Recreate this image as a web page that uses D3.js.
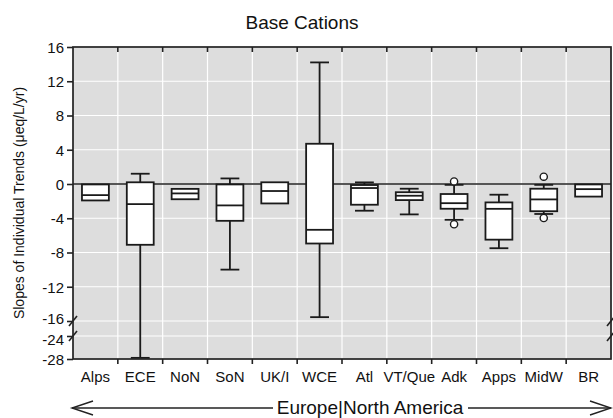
<!DOCTYPE html>
<html>
<head>
<meta charset="utf-8">
<script src="https://cdn.jsdelivr.net/npm/d3@7"></script>
<style>
  body { margin: 0; background: #fff; }
  text { font-family: "Liberation Sans", Arial, sans-serif; fill: #111; }
</style>
</head>
<body>
<svg id="chart"></svg>
<script>
// Data
let categories = ["Alps", "ECE", "NoN", "SoN", "UK/I", "WCE", "Atl", "VT/Que", "Adk", "Apps", "MidW", "BR"];
let whiskerLow  = [null, -27.8, null, -10.0, null, -15.55, -3.12, -3.55, -4.18, -7.5, -3.5, null];
let q1          = [-1.92, -7.1, -1.78, -4.3, -2.27, -6.95, -2.42, -1.88, -2.89, -6.5, -3.18, -1.47];
let median      = [-1.3, -2.35, -1.1, -2.5, -0.82, -5.35, -0.47, -1.37, -2.24, -2.9, -1.8, -0.6];
let q3          = [-0.05, 0.2, -0.57, -0.05, 0.2, 4.7, -0.12, -0.96, -1.17, -2.15, -0.55, -0.05];
let whiskerHigh = [null, 1.2, null, 0.65, null, 14.2, 0.19, -0.55, -0.1, -1.25, -0.1, null];
let outlierCats = ["Adk", "Adk", "MidW", "MidW"];
let outlierVals = [0.3, -4.7, 0.85, -3.97];
let yTicks = [16, 12, 8, 4, 0, -4, -8, -12, -16, -24, -28];

let W = 613, H = 418;
let pLeft = 73, pRight = 611, pTop = 47, pBottom = 359;

let svg = d3.select("#chart").attr("width", W).attr("height", H);

let x = d3.scaleBand().domain(categories).range([pLeft, pRight]);
// broken axis: -28..-24 below the break, -16..16 above
let y = d3.scaleLinear().domain([-28, -24, -16, 16]).range([pBottom, 336, 321, pTop]);

// plot background
svg.append("rect")
  .attr("x", pLeft).attr("y", pTop)
  .attr("width", pRight - pLeft).attr("height", pBottom - pTop)
  .attr("fill", "#dddddd");

// gridlines
svg.append("g").selectAll("line").data(yTicks).join("line")
  .attr("x1", pLeft).attr("x2", pRight)
  .attr("y1", d => y(d)).attr("y2", d => y(d))
  .attr("stroke", "#fff").attr("stroke-width", 1.2);

let bounds = categories.slice(1).map(c => x(c));
svg.append("g").selectAll("line").data(bounds).join("line")
  .attr("x1", d => d).attr("x2", d => d)
  .attr("y1", pTop).attr("y2", pBottom)
  .attr("stroke", "#fff").attr("stroke-width", 1.2);

// zero line
svg.append("line")
  .attr("x1", pLeft).attr("x2", pRight)
  .attr("y1", y(0)).attr("y2", y(0))
  .attr("stroke", "#222").attr("stroke-width", 1.6);

// boxes
let boxW = x.bandwidth() * 0.6, capW = x.bandwidth() * 0.42;
let stroke = "#1a1a1a", sw = 1.8;
let boxes = svg.append("g").selectAll("g").data(categories).join("g")
  .attr("transform", d => "translate(" + (x(d) + x.bandwidth() / 2) + ",0)");

boxes.each(function(d, i) {
  let g = d3.select(this);
  [[whiskerLow[i], q1[i]], [whiskerHigh[i], q3[i]]].forEach(function(w) {
    if (w[0] === null) return;
    g.append("line").attr("x1", 0).attr("x2", 0)
      .attr("y1", y(w[0])).attr("y2", y(w[1]))
      .attr("stroke", stroke).attr("stroke-width", sw);
    g.append("line").attr("x1", -capW / 2).attr("x2", capW / 2)
      .attr("y1", y(w[0])).attr("y2", y(w[0]))
      .attr("stroke", stroke).attr("stroke-width", sw);
  });
  g.append("rect")
    .attr("x", -boxW / 2).attr("width", boxW)
    .attr("y", y(q3[i])).attr("height", y(q1[i]) - y(q3[i]))
    .attr("fill", "#fff").attr("stroke", stroke).attr("stroke-width", sw);
  g.append("line").attr("x1", -boxW / 2).attr("x2", boxW / 2)
    .attr("y1", y(median[i])).attr("y2", y(median[i]))
    .attr("stroke", stroke).attr("stroke-width", sw);
});

// outliers
svg.append("g").selectAll("circle").data(outlierVals).join("circle")
  .attr("cx", (d, i) => x(outlierCats[i]) + x.bandwidth() / 2)
  .attr("cy", d => y(d))
  .attr("r", 3.6)
  .attr("fill", "#fff").attr("stroke", stroke).attr("stroke-width", 1.4);

// axes (plain hyphen for negatives, as in the original)
let yAxis = d3.axisLeft(y).tickValues(yTicks).tickFormat(d => String(d)).tickSize(6).tickPadding(3);
let gy = svg.append("g").attr("transform", "translate(" + pLeft + ",0)").call(yAxis);
gy.selectAll("text").style("font-size", "15px")
  .attr("dy", d => d === -16 ? "0.15em" : d === -24 ? "0.55em" : "0.35em");

let xAxis = d3.axisBottom(x).tickSize(0).tickPadding(12);
let gx = svg.append("g").attr("transform", "translate(0," + pBottom + ")").call(xAxis);
gx.selectAll("text").style("font-size", "15px");

[gx, gy].forEach(g => {
  g.select(".domain").remove();
  g.selectAll("line").attr("stroke", "#222").attr("stroke-width", 1.6);
});

// tick marks on band boundaries, bottom outward and top inward
svg.append("g").selectAll("line").data(bounds).join("line")
  .attr("x1", d => d).attr("x2", d => d)
  .attr("y1", pBottom).attr("y2", pBottom + 5)
  .attr("stroke", "#222").attr("stroke-width", 1.6);
svg.append("g").selectAll("line").data(bounds).join("line")
  .attr("x1", d => d).attr("x2", d => d)
  .attr("y1", pTop).attr("y2", pTop + 5)
  .attr("stroke", "#222").attr("stroke-width", 1.6);

// frame
svg.append("rect")
  .attr("x", pLeft).attr("y", pTop)
  .attr("width", pRight - pLeft).attr("height", pBottom - pTop)
  .attr("fill", "none").attr("stroke", "#222").attr("stroke-width", 1.7);

// break marks on both sides
[pLeft, pRight].forEach(function(xx) {
  [-16, -24].forEach(function(v) {
    svg.append("line")
      .attr("x1", xx - 4).attr("y1", y(v) + 5)
      .attr("x2", xx + 4).attr("y2", y(v) - 5)
      .attr("stroke", "#222").attr("stroke-width", 1.6);
  });
});

// title and axis label
svg.append("text")
  .attr("x", 302).attr("y", 29)
  .style("text-anchor", "middle").style("font-size", "19px")
  .text("Base Cations");

svg.append("text")
  .attr("transform", "rotate(-90)")
  .attr("x", -203).attr("y", 24)
  .style("text-anchor", "middle").style("font-size", "14px")
  .text("Slopes of Individual Trends (μeq/L/yr)");

// Europe | North America arrow
let ay = 408;
svg.append("text").attr("x", 338).attr("y", ay + 6)
  .style("text-anchor", "end").style("font-size", "19px").text("Europe");
svg.append("text").attr("x", 340.5).attr("y", ay + 6)
  .style("text-anchor", "middle").style("font-size", "19px").text("|");
svg.append("text").attr("x", 343).attr("y", ay + 6)
  .style("text-anchor", "start").style("font-size", "19px").text("North America");

let arrow = svg.append("g").attr("stroke", "#222").attr("stroke-width", 1.4).attr("fill", "none");
arrow.append("line").attr("x1", 72).attr("x2", 273).attr("y1", ay).attr("y2", ay);
arrow.append("line").attr("x1", 468).attr("x2", 611).attr("y1", ay).attr("y2", ay);
arrow.append("path").attr("d", "M93," + (ay - 7) + "L72," + ay + "L93," + (ay + 7));
arrow.append("path").attr("d", "M590," + (ay - 7) + "L611," + ay + "L590," + (ay + 7));
</script>
</body>
</html>
